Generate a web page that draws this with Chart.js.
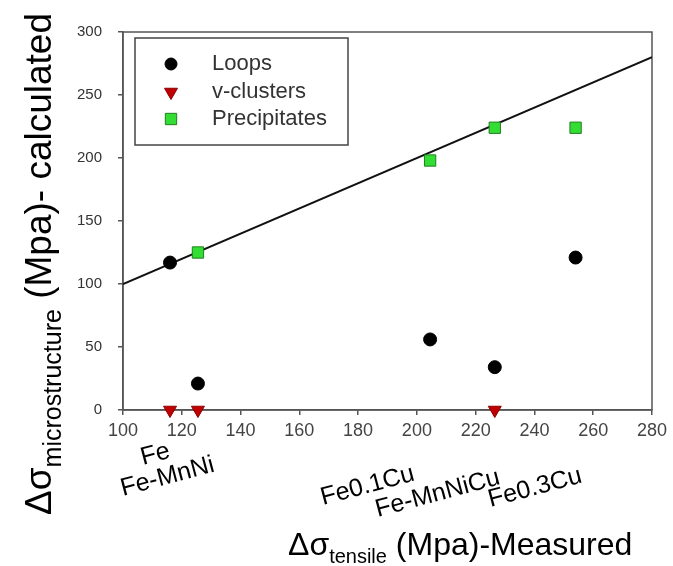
<!DOCTYPE html>
<html>
<head>
<meta charset="utf-8">
<script src="https://cdn.jsdelivr.net/npm/chart.js@4.4.1/dist/chart.umd.min.js"></script>
<style>
  html, body { margin: 0; padding: 0; background: #fff; }
  #wrap { width: 673px; height: 566px; }
</style>
</head>
<body>
<div id="wrap"><canvas id="chart"></canvas></div>
<script>
// values
const samples = ['Fe', 'Fe-MnNi', 'Fe0.1Cu', 'Fe-MnNiCu', 'Fe0.3Cu'];
const measured = [116, 125.5, 204.5, 226.5, 254];          // Δσ tensile (x)
const loops = [117, 21, 56, 34, 121];
const vClusters = [0, 0, null, 0, null];
const precipitates = [null, 125, 198, 224, 224];
const fitX = [100, 280];
const fitY = [100, 280];
const xTicks = { min: 100, max: 280, step: 20 };
const yTicks = { min: 0, max: 300, step: 50 };

// layout of the rotated sample names (offset from the sample's x pixel / axis bottom)
const labelOffsets = [[-27, 55], [-75, 86], [-107, 95], [-117, 107], [-85, 97]];

const FONT = '"Liberation Sans", Arial, sans-serif';

function points(ys) {
  return measured.map((x, i) => ys[i] == null ? null : { x: x, y: ys[i] }).filter(p => p);
}

const styles = [
  { label: 'Loops', pointStyle: 'circle', radius: 6.5, fill: '#000', stroke: '#000' },
  { label: 'v-clusters', pointStyle: 'triangle', radius: 7.5, fill: '#c00000', stroke: '#8a0000', rotation: 180 },
  { label: 'Precipitates', pointStyle: 'rect', radius: 8, fill: '#33dd33', stroke: '#1f7f1f' }
];
const series = [loops, vClusters, precipitates];

const datasets = styles.map((s, i) => ({
  label: s.label,
  data: points(series[i]),
  pointStyle: s.pointStyle,
  pointRadius: s.radius,
  pointRotation: s.rotation || 0,
  backgroundColor: s.fill,
  borderColor: s.stroke,
  borderWidth: 1,
  clip: false,
  order: 1
}));
datasets.push({
  type: 'line',
  label: 'fit',
  data: fitX.map((x, i) => ({ x: x, y: fitY[i] })),
  borderColor: '#111',
  borderWidth: 2,
  pointRadius: 0,
  order: 10
});

function drawMarker(ctx, s, x, y) {
  ctx.save();
  ctx.fillStyle = s.fill;
  ctx.strokeStyle = s.stroke;
  ctx.lineWidth = 1;
  ctx.beginPath();
  if (s.pointStyle === 'circle') {
    ctx.arc(x, y, s.radius - 0.5, 0, Math.PI * 2);
  } else if (s.pointStyle === 'triangle') {
    const r = s.radius;
    ctx.moveTo(x - r * 0.866, y - r * 0.5);
    ctx.lineTo(x + r * 0.866, y - r * 0.5);
    ctx.lineTo(x, y + r);
    ctx.closePath();
  } else {
    const h = s.radius * Math.SQRT1_2;
    ctx.rect(x - h, y - h, 2 * h, 2 * h);
  }
  ctx.fill();
  ctx.stroke();
  ctx.restore();
}

function drawTitle(ctx, main, sub, rest, mainSize, subSize, subShift) {
  let x = 0;
  ctx.font = mainSize + 'px ' + FONT;
  ctx.fillText(main, x, 0);
  x += ctx.measureText(main).width;
  ctx.font = subSize + 'px ' + FONT;
  ctx.fillText(sub, x, subShift);
  x += ctx.measureText(sub).width;
  ctx.font = mainSize + 'px ' + FONT;
  ctx.fillText(rest, x, 0);
}

const extras = {
  id: 'extras',
  beforeDatasetsDraw(chart) {
    const { ctx, chartArea: a } = chart;
    ctx.save();
    ctx.strokeStyle = '#555';
    ctx.lineWidth = 1.5;
    ctx.strokeRect(a.left, a.top, a.right - a.left, a.bottom - a.top);
    ctx.restore();
  },
  afterDraw(chart) {
    const { ctx, chartArea: a } = chart;
    const xs = chart.scales.x;

    // sample names under the x axis
    ctx.save();
    ctx.fillStyle = '#000';
    ctx.font = '25px ' + FONT;
    ctx.textBaseline = 'alphabetic';
    samples.forEach((name, i) => {
      const px = xs.getPixelForValue(measured[i]);
      ctx.save();
      ctx.translate(px + labelOffsets[i][0], a.bottom + labelOffsets[i][1]);
      ctx.rotate(-15 * Math.PI / 180);
      ctx.fillText(name, 0, 0);
      ctx.restore();
    });
    ctx.restore();

    // legend box
    ctx.save();
    ctx.fillStyle = '#fff';
    ctx.strokeStyle = '#444';
    ctx.lineWidth = 1.5;
    ctx.fillRect(135, 38, 213, 107);
    ctx.strokeRect(135, 38, 213, 107);
    const rows = [64, 92, 119];
    styles.forEach((s, i) => {
      drawMarker(ctx, s, 171, rows[i]);
      ctx.fillStyle = '#333';
      ctx.font = '22px ' + FONT;
      ctx.textBaseline = 'middle';
      ctx.fillText(s.label, 212, rows[i]);
    });
    ctx.restore();

    // axis titles
    ctx.save();
    ctx.fillStyle = '#000';
    ctx.textBaseline = 'alphabetic';
    ctx.translate(288, 555);
    drawTitle(ctx, 'Δσ', 'tensile', ' (Mpa)-Measured', 32, 20, 8);
    ctx.restore();

    ctx.save();
    ctx.fillStyle = '#000';
    ctx.textBaseline = 'alphabetic';
    ctx.translate(51, 515);
    ctx.rotate(-Math.PI / 2);
    drawTitle(ctx, 'Δσ', 'microstructure', ' (Mpa)- calculated', 37, 25, 10);
    ctx.restore();
  }
};

new Chart(document.getElementById('chart'), {
  type: 'scatter',
  data: { datasets: datasets },
  options: {
    responsive: true,
    maintainAspectRatio: false,
    animation: false,
    layout: { padding: { top: 32, right: 21, left: 0, bottom: 0 } },
    plugins: { legend: { display: false }, tooltip: { enabled: false } },
    scales: {
      x: {
        type: 'linear',
        min: xTicks.min, max: xTicks.max,
        ticks: { stepSize: xTicks.step, color: '#444', font: { size: 18, family: FONT }, padding: 5, maxRotation: 0 },
        grid: { drawOnChartArea: false, tickLength: 5, color: '#555', lineWidth: 1.5 },
        border: { color: '#555', width: 1.5 },
        afterFit(s) { s.height = 156; }
      },
      y: {
        min: yTicks.min, max: yTicks.max,
        ticks: { stepSize: yTicks.step, color: '#333', font: { size: 15, family: FONT }, padding: 16 },
        grid: { drawOnChartArea: false, tickLength: 5, color: '#555', lineWidth: 1.5 },
        border: { color: '#555', width: 1.5 },
        afterFit(s) { s.width = 123; }
      }
    }
  },
  plugins: [extras]
});
</script>
</body>
</html>
